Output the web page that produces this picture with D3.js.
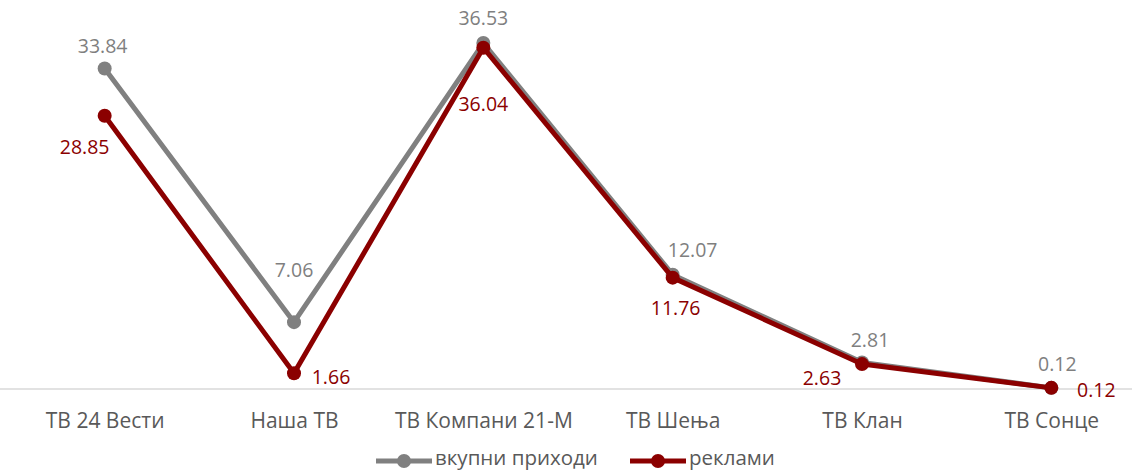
<!DOCTYPE html>
<html><head><meta charset="utf-8">
<script src="https://cdn.jsdelivr.net/npm/d3@7/dist/d3.min.js"></script>
<style>body{margin:0;background:#fff}svg{display:block}text{font-family:"Open Sans",sans-serif}</style>
</head><body><svg id="c" width="1132" height="470"></svg>
<script>
const categories = ["ТВ 24 Вести","Наша ТВ","ТВ Компани 21-М","ТВ Шења","ТВ Клан","ТВ Сонце"];
const totalIncome = [33.84, 7.06, 36.53, 12.07, 2.81, 0.12];
const adIncome = [28.85, 1.66, 36.04, 11.76, 2.63, 0.12];
const seriesNames = ["вкупни приходи","реклами"];

// label offsets (layout)
const grayOff = [[-2,-23],[0,-52],[0,-25],[20,-25],[8,-22],[6,-24]];
const redOff = [[-20,31],[37,4],[0,56],[3,30],[-40,14],[45,2]];

const svg = d3.select("#c");
const x = d3.scalePoint().domain(categories).range([10,1146]).padding(0.5);
const y = d3.scaleLinear().domain([0,40]).range([389,10.2]);

svg.append("line").attr("x1",0).attr("x2",1132).attr("y1",y(0)).attr("y2",y(0))
  .attr("stroke","#d9d9d9").attr("stroke-width",1.5);

const xAxis = svg.append("g").attr("transform",`translate(0,${y(0)})`)
  .call(d3.axisBottom(x).tickSize(0).tickPadding(0));
xAxis.select(".domain").remove();
xAxis.selectAll("text").attr("fill","#595959").attr("font-size",21).attr("font-family","Open Sans")
  .attr("dy",null).attr("y",39);

const series = [
  {name:seriesNames[0], vals: totalIncome, color:"#808080", tcolor:"#7f7f7f", off:grayOff},
  {name:seriesNames[1], vals: adIncome, color:"#8b0000", tcolor:"#8b0000", off:redOff}
];
const line = d3.line().x((d,i)=>x(categories[i])).y(d=>y(d));
series.forEach(s=>{
  const g = svg.append("g");
  g.append("path").attr("d",line(s.vals)).attr("fill","none").attr("stroke",s.color)
    .attr("stroke-width",5).attr("stroke-linejoin","round");
  g.selectAll("circle").data(s.vals).join("circle")
    .attr("cx",(d,i)=>x(categories[i])).attr("cy",d=>y(d)).attr("r",7).attr("fill",s.color);
});
series.forEach(s=>{
  svg.append("g").selectAll("text").data(s.vals).join("text")
    .attr("x",(d,i)=>x(categories[i])+s.off[i][0]).attr("y",(d,i)=>y(d)+s.off[i][1]+7)
    .attr("text-anchor","middle")
    .attr("fill",s.tcolor).attr("font-size",19.5).text(d=>d.toFixed(2));
});

// legend
const leg = svg.append("g");
const legItems = [{x:376, c:"#808080", t:seriesNames[0]},{x:630, c:"#8b0000", t:seriesNames[1]}];
legItems.forEach(l=>{
  leg.append("line").attr("x1",l.x).attr("x2",l.x+56).attr("y1",461).attr("y2",461)
    .attr("stroke",l.c).attr("stroke-width",5);
  leg.append("circle").attr("cx",l.x+28).attr("cy",461).attr("r",7).attr("fill",l.c);
  leg.append("text").attr("x",l.x+59).attr("y",465)
    .attr("fill","#595959").attr("font-size",20.5).text(l.t);
});
</script></body></html>
